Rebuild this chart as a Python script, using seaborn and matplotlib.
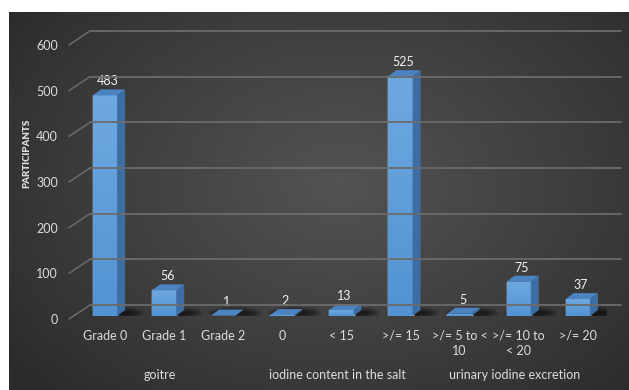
import numpy as np
import pandas as pd
import matplotlib
matplotlib.use("Agg")
import matplotlib.pyplot as plt
import matplotlib.transforms as mtransforms
from matplotlib.patches import Polygon, Ellipse
from matplotlib.colors import LinearSegmentedColormap
import seaborn as sns

# ---- data -------------------------------------------------------------
categories = ["Grade 0", "Grade 1", "Grade 2",
              "0", "< 15", ">/= 15",
              ">/= 5 to <\n10", ">/= 10 to\n< 20", ">/= 20"]
participants = [483, 56, 1, 2, 13, 525, 5, 75, 37]
groups = ["goitre", "iodine content in the salt", "urinary iodine excretion"]
group_sizes = [3, 3, 3]
y_ticks = [0, 100, 200, 300, 400, 500, 600]
y_label = "PARTICIPANTS"

# ---- style ------------------------------------------------------------
sns.set_theme(style="white")
plt.rcParams["font.family"] = ["Lato", "DejaVu Sans"]
TEXT = "#dcdcdc"
GRID = "#6b6b6b"
FRONT_TOP, FRONT_BOT = "#6ea8e0", "#5393d2"
SIDE = "#3c6ea3"
TOPFACE = "#4b84c0"

W, H, DPI = 629, 390, 100
fig = plt.figure(figsize=(W / DPI, H / DPI), dpi=DPI)
fig.patch.set_facecolor("white")

# dark radial-gradient backdrop
bg = fig.add_axes([9 / W, 0, 1 - 9 / W, 1 - 12 / H])
bg.set_axis_off()
yy, xx = np.mgrid[0:378, 0:620]
r = np.sqrt(((xx - 330) / 420.0) ** 2 + ((yy - 170) / 300.0) ** 2)
shade = np.clip(1 - r, 0, 1) ** 0.9
inner, outer = 0x53 / 255, 0x2a / 255
val = outer + (inner - outer) * shade
bg.imshow(np.dstack([val, val, val]), aspect="auto", interpolation="bilinear")

# main axes: bar plane, zero at y=316 px, 0.4567 px per participant
px_per_unit = 0.4567
step = 59.1
x_left = 105 - step / 2
ymax = 650
ax_h = ymax * px_per_unit
ax = fig.add_axes([x_left / W, (H - 316) / H, 9 * step / W, ax_h / H])
ax.patch.set_alpha(0)
for s in ax.spines.values():
    s.set_visible(False)

df = pd.DataFrame({"category": categories, "participants": participants})
sns.barplot(data=df, x="category", y="participants", color=FRONT_BOT,
            saturation=1, width=0.41, ax=ax, zorder=5)
ax.set_xlim(-0.5, len(categories) - 0.5)
ax.set_ylim(0, ymax)
ax.set_xlabel("")
ax.set_ylabel("")

fig.canvas.draw()
ident = mtransforms.IdentityTransform()
to_disp = ax.transData.transform

# back wall gridlines with diagonal leaders from the tick labels
for v in y_ticks:
    _, yb = to_disp((0, v))
    back_y = yb + 11
    front_y = yb - 3
    fig.add_artist(plt.Line2D([69, 90], [front_y, back_y], color=GRID, lw=1.1,
                              transform=ident, zorder=1))
    fig.add_artist(plt.Line2D([90, 621], [back_y, back_y], color=GRID, lw=1.3,
                              transform=ident, zorder=1))

# 3-D faces, gradients and floor shadows for each bar
dx, dy = 8, 6
grad = np.linspace(0, 1, 64).reshape(-1, 1)
cmap = LinearSegmentedColormap.from_list("front", [FRONT_BOT, FRONT_TOP])
for patch, v in zip(ax.patches, participants):
    x0 = patch.get_x()
    x1 = x0 + patch.get_width()
    h = patch.get_height()
    (px0, py0), (px1, py1) = to_disp((x0, 0)), to_disp((x1, h))

    # soft shadow on the floor, cast towards the right
    for k in range(7):
        ax.add_patch(Ellipse(((px0 + px1) / 2 + 12, py0 + 3),
                             (px1 - px0) + 30 - k * 4, 13 - k * 1.5,
                             color="black", alpha=0.1, lw=0,
                             transform=ident, zorder=2))

    im = ax.imshow(grad, extent=[x0, x1, 0, max(h, 0.01)], origin="lower",
                   aspect="auto", cmap=cmap, zorder=5.5, interpolation="bilinear")
    im.set_clip_path(patch)

    side = [(px1, py0), (px1 + dx, py0 + dy), (px1 + dx, py1 + dy), (px1, py1)]
    top = [(px0, py1), (px0 + dx, py1 + dy), (px1 + dx, py1 + dy), (px1, py1)]
    ax.add_patch(Polygon(side, closed=True, fc=SIDE, ec="none",
                         transform=ident, zorder=6))
    ax.add_patch(Polygon(top, closed=True, fc=TOPFACE, ec="none",
                         transform=ident, zorder=6))

    ax.annotate(f"{v}", xy=((x0 + x1) / 2, h), xytext=(3, 14),
                textcoords="offset pixels", ha="center", va="center",
                color="#f2f2f2", fontsize=9, zorder=7)

# axis ticks and labels
ax.set_yticks(y_ticks)
ax.set_yticklabels([str(t) for t in y_ticks])
ax.tick_params(axis="y", length=0, pad=12.5, labelsize=9, labelcolor=TEXT)
shift = mtransforms.ScaledTranslation(0, -3 / DPI, fig.dpi_scale_trans)
for lab in ax.get_yticklabels():
    lab.set_transform(lab.get_transform() + shift)

ax.tick_params(axis="x", length=0, pad=10, labelsize=9, labelcolor=TEXT)
for lab in ax.get_xticklabels():
    lab.set_linespacing(1.35)

# group captions under the category labels
start = 0
for g, n in zip(groups, group_sizes):
    centre = start + (n - 1) / 2
    ax.annotate(g, xy=(centre, 0), xycoords=("data", "axes fraction"),
                xytext=(-4, -59), textcoords="offset pixels",
                ha="center", va="center", color=TEXT, fontsize=9)
    start += n

fig.text(27 / W, 1 - 153 / H, y_label, rotation=90, ha="center", va="center",
         color=TEXT, fontsize=7, fontweight="heavy")

fig.savefig("out.png", dpi=DPI)
